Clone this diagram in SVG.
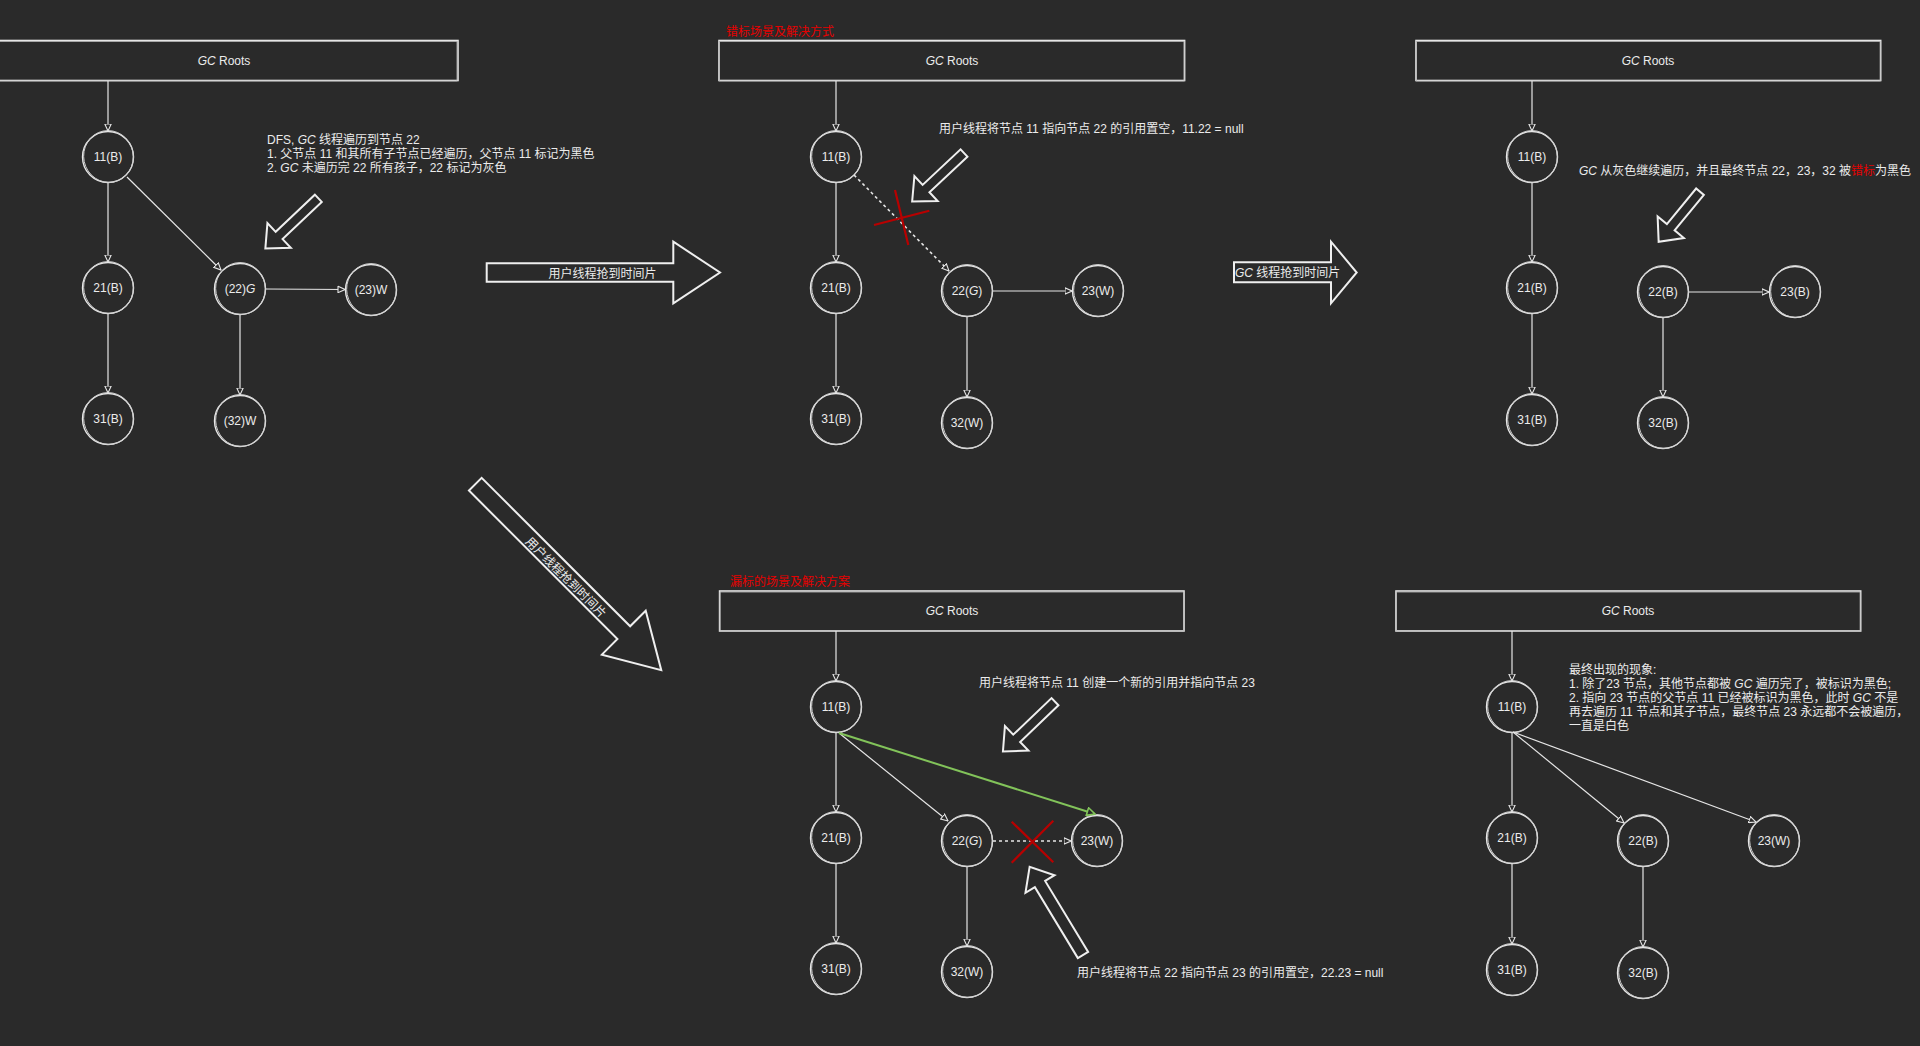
<svg xmlns="http://www.w3.org/2000/svg" xmlns:xlink="http://www.w3.org/1999/xlink" width="1920" height="1046" viewBox="0 0 1920 1046">
<style>
text{font-family:"Liberation Sans","Noto Sans CJK SC",sans-serif;font-size:12px;fill:#ececec}
.c{text-anchor:middle}
.red{fill:#e60000}
.i{font-style:italic}
.box{fill:#2a2a2a;stroke:#e6e6e6;stroke-width:1.6}
.box2{fill:none;stroke:#b8b8b8;stroke-width:0.8}
.nd{fill:#2a2a2a;stroke:#e6e6e6;stroke-width:1.4}
.nd2{fill:none;stroke:#cfcfcf;stroke-width:0.9}
.e{fill:none;stroke:#e6e6e6;stroke-width:1.2}
.dash{stroke-dasharray:3 3;stroke-width:1.6}
.g{stroke:#82c35a;stroke-width:2}
.x{stroke:#b80000;stroke-width:2.2;fill:none}
.ba{fill:#2a2a2a;stroke:#efefef;stroke-width:2;stroke-linejoin:miter}
</style>
<defs>
<marker id="arr" viewBox="0 0 8 8" refX="7.5" refY="4" markerWidth="8" markerHeight="8" markerUnits="userSpaceOnUse" orient="auto">
<path d="M0.5,0.8 L7.5,4 L0.5,7.2 Z" fill="#2a2a2a" stroke="#e6e6e6" stroke-width="1.1"/>
</marker>
<marker id="arrg" viewBox="0 0 10 10" refX="9" refY="5" markerWidth="10" markerHeight="10" markerUnits="userSpaceOnUse" orient="auto">
<path d="M1,1 L9,5 L1,9 Z" fill="#2a2a2a" stroke="#82c35a" stroke-width="1.6"/>
</marker>
<g id="ns"><ellipse class="nd" rx="25.5" ry="25.5"/><ellipse class="nd2" cx="0.6" cy="-0.4" rx="24.8" ry="26" transform="rotate(-12)"/></g>
</defs>
<rect x="0" y="0" width="1920" height="1046" fill="#2a2a2a"/>

<!-- Panel 1 -->
<g id="p1-root"><rect class="box" x="-10" y="40.5" width="468" height="40"/><rect class="box2" x="-10" y="41.5" width="467" height="39.5"/><text class="c" x="224" y="65"><tspan class="i">GC</tspan> Roots</text></g>
<g id="p1-n11" transform="translate(108,157)"><use xlink:href="#ns"/><text class="c" y="4">11(B)</text></g>
<g id="p1-n21" transform="translate(108,288)"><use xlink:href="#ns"/><text class="c" y="4">21(B)</text></g>
<g id="p1-n31" transform="translate(108,419)"><use xlink:href="#ns"/><text class="c" y="4">31(B)</text></g>
<g id="p1-n22" transform="translate(240,289)"><use xlink:href="#ns"/><text class="c" y="4">(22)<tspan class="i">G</tspan></text></g>
<g id="p1-n23" transform="translate(371,290)"><use xlink:href="#ns"/><text class="c" y="4">(23)W</text></g>
<g id="p1-n32" transform="translate(240,421)"><use xlink:href="#ns"/><text class="c" y="4">(32)W</text></g>
<g id="p1-note"><text x="267" y="143.5">DFS, <tspan class="i">GC</tspan> 线程遍历到节点 22</text><text x="267" y="158">1. 父节点 11 和其所有子节点已经遍历，父节点 11 标记为黑色</text><text x="267" y="172">2. <tspan class="i">GC</tspan> 未遍历完 22 所有孩子，22 标记为灰色</text></g>
<g id="p1-pointer"><path class="ba" transform="translate(318.3,198.3) rotate(136.5)" d="M0,-5 L54,-5 L54,-17 L73,0 L54,17 L54,5 L0,5 Z"/></g>

<!-- Transition arrows -->
<g id="t1"><path class="ba" d="M486.7,263.3 L673.3,263.3 L673.3,241.7 L720,272.5 L673.3,303.3 L673.3,281.7 L486.7,281.7 Z"/><text class="c" x="602.5" y="278.3">用户线程抢到时间片</text></g>
<g id="t2"><path class="ba" d="M1234,262.3 L1331,262.3 L1331,241.7 L1356.7,272.5 L1331,303.3 L1331,282.3 L1234,282.3 Z"/><text x="1235" y="277"><tspan class="i">GC</tspan> 线程抢到时间片</text></g>
<g id="t3" transform="translate(475.3,484.2) rotate(45)"><path class="ba" d="M0,-9 L210,-9 L210,-31 L263,0 L210,31 L210,9 L0,9 Z"/><text class="c" x="130" y="6">用户线程抢到时间片</text></g>

<!-- Panel 2 -->
<text class="red" x="726" y="36">错标场景及解决方式</text>
<g id="p2-root"><rect class="box" x="719" y="40.5" width="465.6" height="40"/><rect class="box2" x="719.5" y="41.5" width="464.6" height="39.5"/><text class="c" x="952" y="65"><tspan class="i">GC</tspan> Roots</text></g>
<g id="p2-n11" transform="translate(836,157)"><use xlink:href="#ns"/><text class="c" y="4">11(B)</text></g>
<g id="p2-n21" transform="translate(836,288)"><use xlink:href="#ns"/><text class="c" y="4">21(B)</text></g>
<g id="p2-n31" transform="translate(836,419)"><use xlink:href="#ns"/><text class="c" y="4">31(B)</text></g>
<g id="p2-n22" transform="translate(967,291)"><use xlink:href="#ns"/><text class="c" y="4">22(<tspan class="i">G</tspan>)</text></g>
<g id="p2-n23" transform="translate(1098,291)"><use xlink:href="#ns"/><text class="c" y="4">23(W)</text></g>
<g id="p2-n32" transform="translate(967,423)"><use xlink:href="#ns"/><text class="c" y="4">32(W)</text></g>
<text x="939" y="132.8">用户线程将节点 11 指向节点 22 的引用置空，11.22 = null</text>
<g id="p2-pointer"><path class="ba" transform="translate(964,153) rotate(136.9)" d="M0,-5 L52,-5 L52,-17 L71,0 L52,17 L52,5 L0,5 Z"/></g>

<!-- Panel 3 -->
<g id="p3-root"><rect class="box" x="1416" y="40.5" width="464.7" height="40"/><rect class="box2" x="1416.5" y="41.5" width="463.7" height="39.5"/><text class="c" x="1648" y="65"><tspan class="i">GC</tspan> Roots</text></g>
<g id="p3-n11" transform="translate(1532,157)"><use xlink:href="#ns"/><text class="c" y="4">11(B)</text></g>
<g id="p3-n21" transform="translate(1532,288)"><use xlink:href="#ns"/><text class="c" y="4">21(B)</text></g>
<g id="p3-n31" transform="translate(1532,420)"><use xlink:href="#ns"/><text class="c" y="4">31(B)</text></g>
<g id="p3-n22" transform="translate(1663,292)"><use xlink:href="#ns"/><text class="c" y="4">22(B)</text></g>
<g id="p3-n23" transform="translate(1795,292)"><use xlink:href="#ns"/><text class="c" y="4">23(B)</text></g>
<g id="p3-n32" transform="translate(1663,423)"><use xlink:href="#ns"/><text class="c" y="4">32(B)</text></g>
<text x="1579" y="174.5"><tspan class="i">GC</tspan> 从灰色继续遍历，并且最终节点 22，23，32 被<tspan class="red">错标</tspan>为黑色</text>
<g id="p3-pointer"><path class="ba" transform="translate(1700,191.7) rotate(129.5)" d="M0,-5 L46,-5 L46,-17 L65,0 L46,17 L46,5 L0,5 Z"/></g>

<!-- Panel 4 -->
<text class="red" x="730" y="586">漏标的场景及解决方案</text>
<g id="p4-root"><rect class="box" x="719.6" y="591" width="464.4" height="40"/><rect class="box2" x="720" y="592" width="463.4" height="39.5"/><text class="c" x="952" y="615"><tspan class="i">GC</tspan> Roots</text></g>
<g id="p4-n11" transform="translate(836,707)"><use xlink:href="#ns"/><text class="c" y="4">11(B)</text></g>
<g id="p4-n21" transform="translate(836,838)"><use xlink:href="#ns"/><text class="c" y="4">21(B)</text></g>
<g id="p4-n31" transform="translate(836,969)"><use xlink:href="#ns"/><text class="c" y="4">31(B)</text></g>
<g id="p4-n22" transform="translate(967,841)"><use xlink:href="#ns"/><text class="c" y="4">22(<tspan class="i">G</tspan>)</text></g>
<g id="p4-n23" transform="translate(1097,841)"><use xlink:href="#ns"/><text class="c" y="4">23(W)</text></g>
<g id="p4-n32" transform="translate(967,972)"><use xlink:href="#ns"/><text class="c" y="4">32(W)</text></g>
<text x="979" y="687">用户线程将节点 11 创建一个新的引用并指向节点 23</text>
<text x="1077" y="977">用户线程将节点 22 指向节点 23 的引用置空，22.23 = null</text>
<g id="p4-pointer1"><path class="ba" transform="translate(1055,701.7) rotate(136.3)" d="M0,-5 L53,-5 L53,-17 L72,0 L53,17 L53,5 L0,5 Z"/></g>
<g id="p4-pointer2"><path class="ba" transform="translate(1083,955) rotate(-121.2)" d="M0,-6 L83,-6 L83,-17 L103,0 L83,17 L83,6 L0,6 Z"/></g>

<!-- Panel 5 -->
<g id="p5-root"><rect class="box" x="1396" y="591" width="464.7" height="40"/><rect class="box2" x="1396.5" y="592" width="463.7" height="39.5"/><text class="c" x="1628" y="615"><tspan class="i">GC</tspan> Roots</text></g>
<g id="p5-n11" transform="translate(1512,707)"><use xlink:href="#ns"/><text class="c" y="4">11(B)</text></g>
<g id="p5-n21" transform="translate(1512,838)"><use xlink:href="#ns"/><text class="c" y="4">21(B)</text></g>
<g id="p5-n31" transform="translate(1512,970)"><use xlink:href="#ns"/><text class="c" y="4">31(B)</text></g>
<g id="p5-n22" transform="translate(1643,841)"><use xlink:href="#ns"/><text class="c" y="4">22(B)</text></g>
<g id="p5-n23" transform="translate(1774,841)"><use xlink:href="#ns"/><text class="c" y="4">23(W)</text></g>
<g id="p5-n32" transform="translate(1643,973)"><use xlink:href="#ns"/><text class="c" y="4">32(B)</text></g>
<g id="p5-note">
<text x="1569" y="673.5">最终出现的现象:</text>
<text x="1569" y="687.5">1. 除了23 节点，其他节点都被 <tspan class="i">GC</tspan> 遍历完了，被标识为黑色;</text>
<text x="1569" y="701.5">2. 指向 23 节点的父节点 11 已经被标识为黑色，此时 <tspan class="i">GC</tspan> 不是</text>
<text x="1569" y="715.5">再去遍历 11 节点和其子节点，最终节点 23 永远都不会被遍历，</text>
<text x="1569" y="729.5">一直是白色</text>
</g>

<!-- Connectors -->
<g id="connectors" class="e">
<line class="e" x1="108" y1="81" x2="108" y2="131" marker-end="url(#arr)"/>
<line class="e" x1="108" y1="182.5" x2="108" y2="262" marker-end="url(#arr)"/>
<line class="e" x1="108" y1="313.5" x2="108" y2="393" marker-end="url(#arr)"/>
<line class="e" x1="127" y1="177" x2="221" y2="270" marker-end="url(#arr)"/>
<line class="e" x1="266" y1="289" x2="345" y2="289.5" marker-end="url(#arr)"/>
<line class="e" x1="240" y1="315" x2="240" y2="395" marker-end="url(#arr)"/>

<line class="e" x1="836" y1="81" x2="836" y2="131" marker-end="url(#arr)"/>
<line class="e" x1="836" y1="182.5" x2="836" y2="262" marker-end="url(#arr)"/>
<line class="e" x1="836" y1="313.5" x2="836" y2="393" marker-end="url(#arr)"/>
<line class="e dash" x1="854" y1="175" x2="949" y2="271" marker-end="url(#arr)"/>
<line class="e" x1="993" y1="291" x2="1072" y2="291" marker-end="url(#arr)"/>
<line class="e" x1="967" y1="317" x2="967" y2="397" marker-end="url(#arr)"/>
<path class="x" d="M895,190 L908.3,245 M874,225 L929.3,210.7"/>

<line class="e" x1="1532" y1="81" x2="1532" y2="131" marker-end="url(#arr)"/>
<line class="e" x1="1532" y1="182.5" x2="1532" y2="262" marker-end="url(#arr)"/>
<line class="e" x1="1532" y1="313.5" x2="1532" y2="394" marker-end="url(#arr)"/>
<line class="e" x1="1689" y1="292" x2="1769" y2="292" marker-end="url(#arr)"/>
<line class="e" x1="1663" y1="318" x2="1663" y2="397" marker-end="url(#arr)"/>

<line class="e" x1="836" y1="631" x2="836" y2="681" marker-end="url(#arr)"/>
<line class="e" x1="836" y1="732.5" x2="836" y2="812" marker-end="url(#arr)"/>
<line class="e" x1="836" y1="863.5" x2="836" y2="943" marker-end="url(#arr)"/>
<line class="e" x1="839" y1="733" x2="948" y2="821" marker-end="url(#arr)"/>
<line class="g" x1="839" y1="733" x2="1095" y2="814" marker-end="url(#arrg)"/>
<line class="e dash" x1="993" y1="841" x2="1071" y2="841" marker-end="url(#arr)"/>
<line class="e" x1="967" y1="867" x2="967" y2="946" marker-end="url(#arr)"/>
<path class="x" d="M1011.7,821.7 L1053.3,862.3 M1053.3,820.7 L1011.7,862.7"/>

<line class="e" x1="1512" y1="631" x2="1512" y2="681" marker-end="url(#arr)"/>
<line class="e" x1="1512" y1="732.5" x2="1512" y2="812" marker-end="url(#arr)"/>
<line class="e" x1="1512" y1="863.5" x2="1512" y2="944" marker-end="url(#arr)"/>
<line class="e" x1="1513" y1="732" x2="1624" y2="823" marker-end="url(#arr)"/>
<line class="e" x1="1513" y1="732" x2="1756" y2="822" marker-end="url(#arr)"/>
<line class="e" x1="1643" y1="867" x2="1643" y2="947" marker-end="url(#arr)"/>
</g>
</svg>
